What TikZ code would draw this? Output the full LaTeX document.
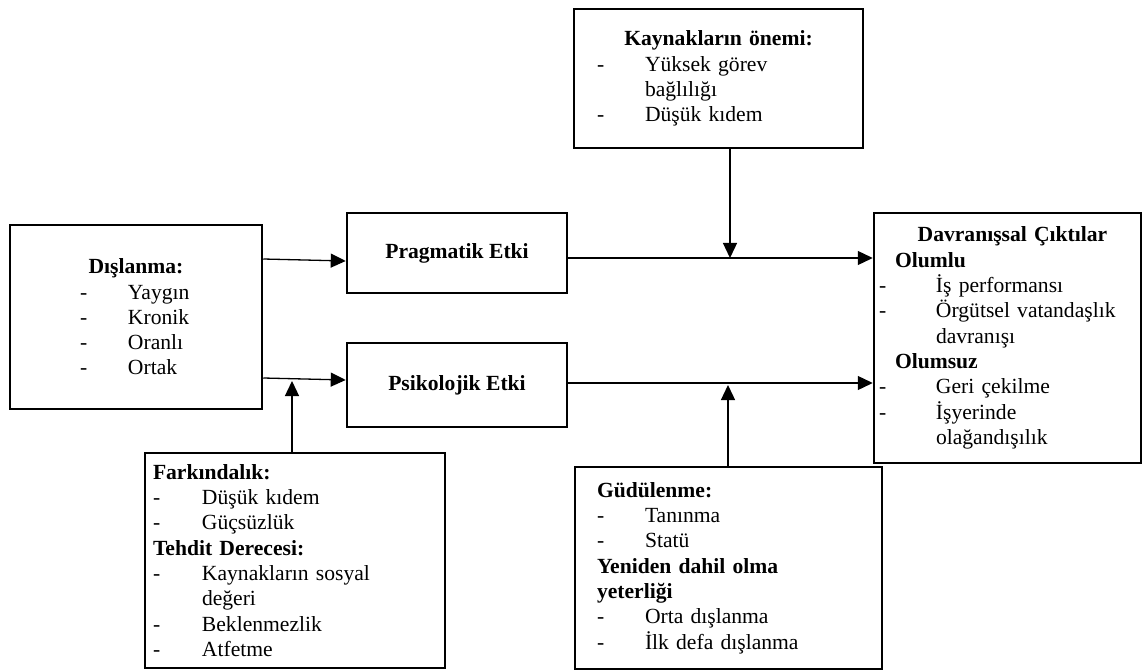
\documentclass[tikz,border=0pt]{standalone}
\usepackage{fontspec}
\setmainfont{Liberation Serif}
\usetikzlibrary{arrows.meta}
\newcommand{\itm}[2][48pt]{\makebox[#1][l]{-}#2}

\begin{document}
\begin{tikzpicture}[x=1pt,y=-1pt,
  box/.style={draw,line width=2.5pt,align=left,font=\fontsize{21.6}{25.3}\selectfont},
  arr/.style={line width=1.3pt,-{Triangle[length=15pt,width=14pt]}}]
  \useasboundingbox (0,0) rectangle (1146,671);

  % boxes
  \node[box,minimum width=252pt,minimum height=184pt,inner xsep=70pt,text width=112pt] (disl) at (136,317)
    {\makebox[\hsize]{\textbf{Dışlanma:}}\\ \itm{Yaygın}\\ \itm{Kronik}\\ \itm{Oranlı}\\ \itm{Ortak}};
  \node[box,align=center,minimum width=220pt,minimum height=80pt] (prag) at (457,253) {\textbf{Pragmatik Etki}};
  \node[box,align=center,minimum width=220pt,minimum height=84pt] (psik) at (457,385) {\textbf{Psikolojik Etki}};
  \node[box,minimum width=289pt,minimum height=139pt,inner xsep=23pt,text width=243pt] (kayn) at (718.5,78.5)
    {\makebox[\hsize]{\textbf{Kaynakların önemi:}}\\ \itm{Yüksek görev}\\ \hspace*{48pt}bağlılığı\\ \itm{Düşük kıdem}};
  \node[box,minimum width=267pt,minimum height=250pt,inner xsep=5pt,text width=257pt] (davr) at (1007.5,338)
    {\makebox[\hsize]{\hspace*{10pt}\textbf{Davranışsal Çıktılar}}\\
     \hspace*{16pt}\textbf{Olumlu}\\ \itm[57pt]{İş performansı}\\ \itm[57pt]{Örgütsel vatandaşlık}\\ \hspace*{57pt}davranışı\\
     \hspace*{16pt}\textbf{Olumsuz}\\ \itm[57pt]{Geri çekilme}\\ \itm[57pt]{İşyerinde}\\ \hspace*{57pt}olağandışılık};
  \node[box,minimum width=300pt,minimum height=215pt,inner xsep=8pt,text width=284pt] (fark) at (295,560.5)
    {\textbf{Farkındalık:}\\ \itm[49pt]{Düşük kıdem}\\ \itm[49pt]{Güçsüzlük}\\ \textbf{Tehdit Derecesi:}\\
     \itm[49pt]{Kaynakların sosyal}\\ \hspace*{49pt}değeri\\ \itm[49pt]{Beklenmezlik}\\ \itm[49pt]{Atfetme}};
  \node[box,minimum width=307pt,minimum height=202pt,inner xsep=22pt,text width=263pt] (gudu) at (728.5,568)
    {\textbf{Güdülenme:}\\ \itm{Tanınma}\\ \itm{Statü}\\ \textbf{Yeniden dahil olma}\\ \textbf{yeterliği}\\
     \itm{Orta dışlanma}\\ \itm{İlk defa dışlanma}};

  % meeting points of the moderators
  \coordinate (m1) at (730,258);
  \coordinate (m2) at (292,381);
  \coordinate (m3) at (728,385);

  % arrows
  \draw[arr] (disl.east |- 0,259) -- (prag.west |- 0,261);
  \draw[arr] (disl.east |- 0,378) -- (psik.west |- 0,380);
  \draw[arr] (prag.east |- 0,258) -- (davr.west |- 0,258);
  \draw[arr] (psik.east |- 0,383) -- (davr.west |- 0,383);
  \draw[arr] (kayn.south -| m1) -- (m1);
  \draw[arr] (fark.north -| m2) -- (m2);
  \draw[arr] (gudu.north -| m3) -- (m3);
\end{tikzpicture}
\end{document}
